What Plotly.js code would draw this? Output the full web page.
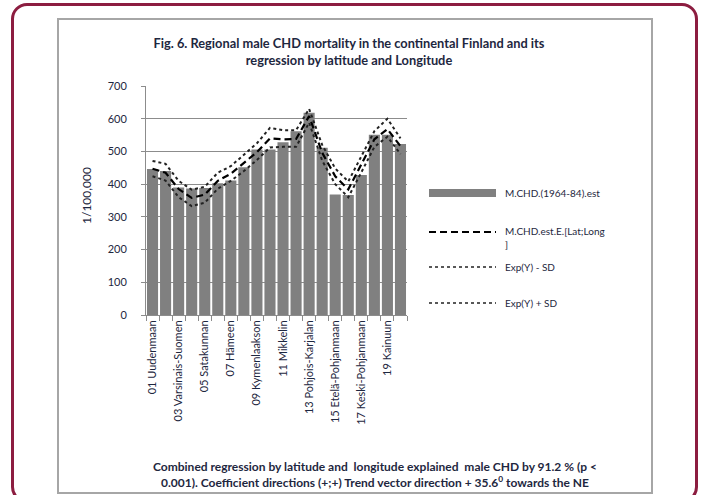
<!DOCTYPE html>
<html>
<head>
<meta charset="utf-8">
<script src="https://cdn.plot.ly/plotly-3.0.1.min.js"></script>
<style>
  html, body { margin: 0; padding: 0; background: #fff; }
  #wrap { position: relative; width: 701px; height: 495px; overflow: hidden; }
  #red { position: absolute; left: 11px; top: 3px; width: 687px; height: 500px;
         border: 3px solid #8c1d40; border-radius: 16px; box-sizing: border-box; }
  #gray { position: absolute; left: 57px; top: 18px; width: 596px; height: 476px;
          border: 2px solid #a6a6a6; box-sizing: border-box; }
  #plot { position: absolute; left: 0; top: 0; width: 701px; height: 495px; }
</style>
</head>
<body>
<div id="wrap">
  <div id="red"></div>
  <div id="gray"></div>
  <div id="plot"></div>
</div>
<script>
// regions 01..20, only odd ones are labelled on the axis
var codes = ['01','02','03','04','05','06','07','08','09','10',
             '11','12','13','14','15','16','17','18','19','20'];
var tickLabels = ['01 Uudenmaan','','03 Varsinais-Suomen','','05 Satakunnan','',
                  '07 Hämeen','','09 Kymenlaakson','','11 Mikkelin','',
                  '13 Pohjois-Karjalan','','15 Etelä-Pohjanmaan','',
                  '17 Keski-Pohjanmaan','','19 Kainuun',''];

// observed male CHD mortality (1964-84)
var chdObserved = [446, 440, 390, 387, 388, 403, 411, 452, 506, 506,
                   528, 562, 618, 511, 368, 367, 428, 551, 551, 523];
// regression estimate by latitude / longitude
var chdEstimate = [447, 435, 385, 358, 368, 410, 432, 465, 498, 540,
                   537, 538, 608, 496, 424, 384, 460, 537, 568, 516];
var expMinusSD  = [424, 411, 360, 333, 343, 386, 410, 440, 474, 512,
                   514, 514, 588, 472, 400, 360, 436, 514, 545, 492];
var expPlusSD   = [471, 462, 410, 383, 392, 435, 455, 489, 525, 572,
                   565, 565, 630, 520, 448, 408, 484, 562, 600, 540];

var font = 'Lato, sans-serif';
var txt = '#1e2740';

// plot area in pixels: x 146..407, y 86..315
function fx(px) { return (px - 146) / 261; }
function fy(py) { return (315 - py) / 229; }

var bars = {
    x: codes, y: chdObserved, type: 'bar', name: 'M.CHD.(1964-84).est',
    marker: { color: '#808080' }
};
var est = {
    x: codes, y: chdEstimate, type: 'scatter', mode: 'lines', name: 'M.CHD.est.E.[Lat;Long]',
    line: { color: '#000', width: 2.2, dash: '7px,4px' }
};
var lower = {
    x: codes, y: expMinusSD, type: 'scatter', mode: 'lines', name: 'Exp(Y) - SD',
    line: { color: '#222', width: 2, dash: 'dot' }
};
var upper = {
    x: codes, y: expPlusSD, type: 'scatter', mode: 'lines', name: 'Exp(Y) + SD',
    line: { color: '#222', width: 2, dash: 'dot' }
};

// hand-made legend to get the long Excel-style keys
var shapes = [
    { type: 'rect', xref: 'paper', yref: 'paper', x0: fx(429), x1: fx(496), y0: fy(197), y1: fy(189),
      fillcolor: '#808080', line: { width: 0 } },
    { type: 'line', xref: 'paper', yref: 'paper', x0: fx(429), x1: fx(496), y0: fy(232), y1: fy(232),
      line: { color: '#000', width: 2.2, dash: '7px,4px' } },
    { type: 'line', xref: 'paper', yref: 'paper', x0: fx(429), x1: fx(496), y0: fy(267), y1: fy(267),
      line: { color: '#222', width: 1.3, dash: 'dot' } },
    { type: 'line', xref: 'paper', yref: 'paper', x0: fx(429), x1: fx(496), y0: fy(303), y1: fy(303),
      line: { color: '#222', width: 1.3, dash: 'dot' } }
];

function legText(py, s) {
    return { xref: 'paper', yref: 'paper', x: fx(503), y: fy(py), xanchor: 'left', yanchor: 'middle',
             text: s, showarrow: false, align: 'left', font: { family: font, size: 10, color: txt } };
}

var annotations = [
    legText(193, 'M.CHD.(1964-84).est'),
    legText(237, 'M.CHD.est.E.[Lat;Long<br>]'),
    legText(267, 'Exp(Y) - SD'),
    legText(303, 'Exp(Y) + SD'),
    { xref: 'paper', yref: 'paper', x: fx(375), y: fy(474), xanchor: 'center', yanchor: 'middle',
      showarrow: false, align: 'center',
      text: '<b>Combined regression by latitude and  longitude explained  male CHD by 91.2 % (p <<br>' +
            '0.001). Coefficient directions (+;+) Trend vector direction + 35.6<sup>0</sup> towards the NE</b>',
      font: { family: font, size: 12, color: txt } },
    { xref: 'paper', yref: 'paper', x: fx(86), y: fy(196), xanchor: 'center', yanchor: 'middle',
      showarrow: false, textangle: -90, text: '1/100,000',
      font: { family: font, size: 12, color: txt } }
];

var layout = {
    width: 701, height: 495,
    margin: { l: 146, r: 294, t: 86, b: 180 },
    paper_bgcolor: 'rgba(0,0,0,0)',
    plot_bgcolor: 'rgba(0,0,0,0)',
    showlegend: false,
    bargap: 0.15,
    title: {
        text: '<b>Fig. 6. Regional male CHD mortality in the continental Finland and its<br>regression by latitude and Longitude</b>',
        x: 349 / 701, xref: 'container', xanchor: 'center',
        y: 1 - 48 / 495, yref: 'container', yanchor: 'middle',
        font: { family: font, size: 12.8, color: txt }
    },
    xaxis: {
        type: 'category',
        tickvals: codes, ticktext: tickLabels,
        tickson: 'boundaries', ticks: 'outside', ticklen: 5, tickcolor: '#8c8c8c',
        showline: true, linecolor: '#8c8c8c', linewidth: 1,
        tickangle: -90, tickfont: { family: font, size: 11, color: txt },
        showgrid: false
    },
    yaxis: {
        range: [0, 700], dtick: 100,
        showgrid: true, gridcolor: '#8c8c8c', gridwidth: 1,
        showline: true, linecolor: '#8c8c8c', linewidth: 1,
        ticks: 'outside', ticklen: 4, tickcolor: '#8c8c8c',
        zeroline: false, ticklabelstandoff: 12,
        tickfont: { family: font, size: 11, color: txt }
    },
    shapes: shapes,
    annotations: annotations
};

Plotly.newPlot('plot', [bars, est, lower, upper], layout, { displayModeBar: false, staticPlot: true });
</script>
</body>
</html>
